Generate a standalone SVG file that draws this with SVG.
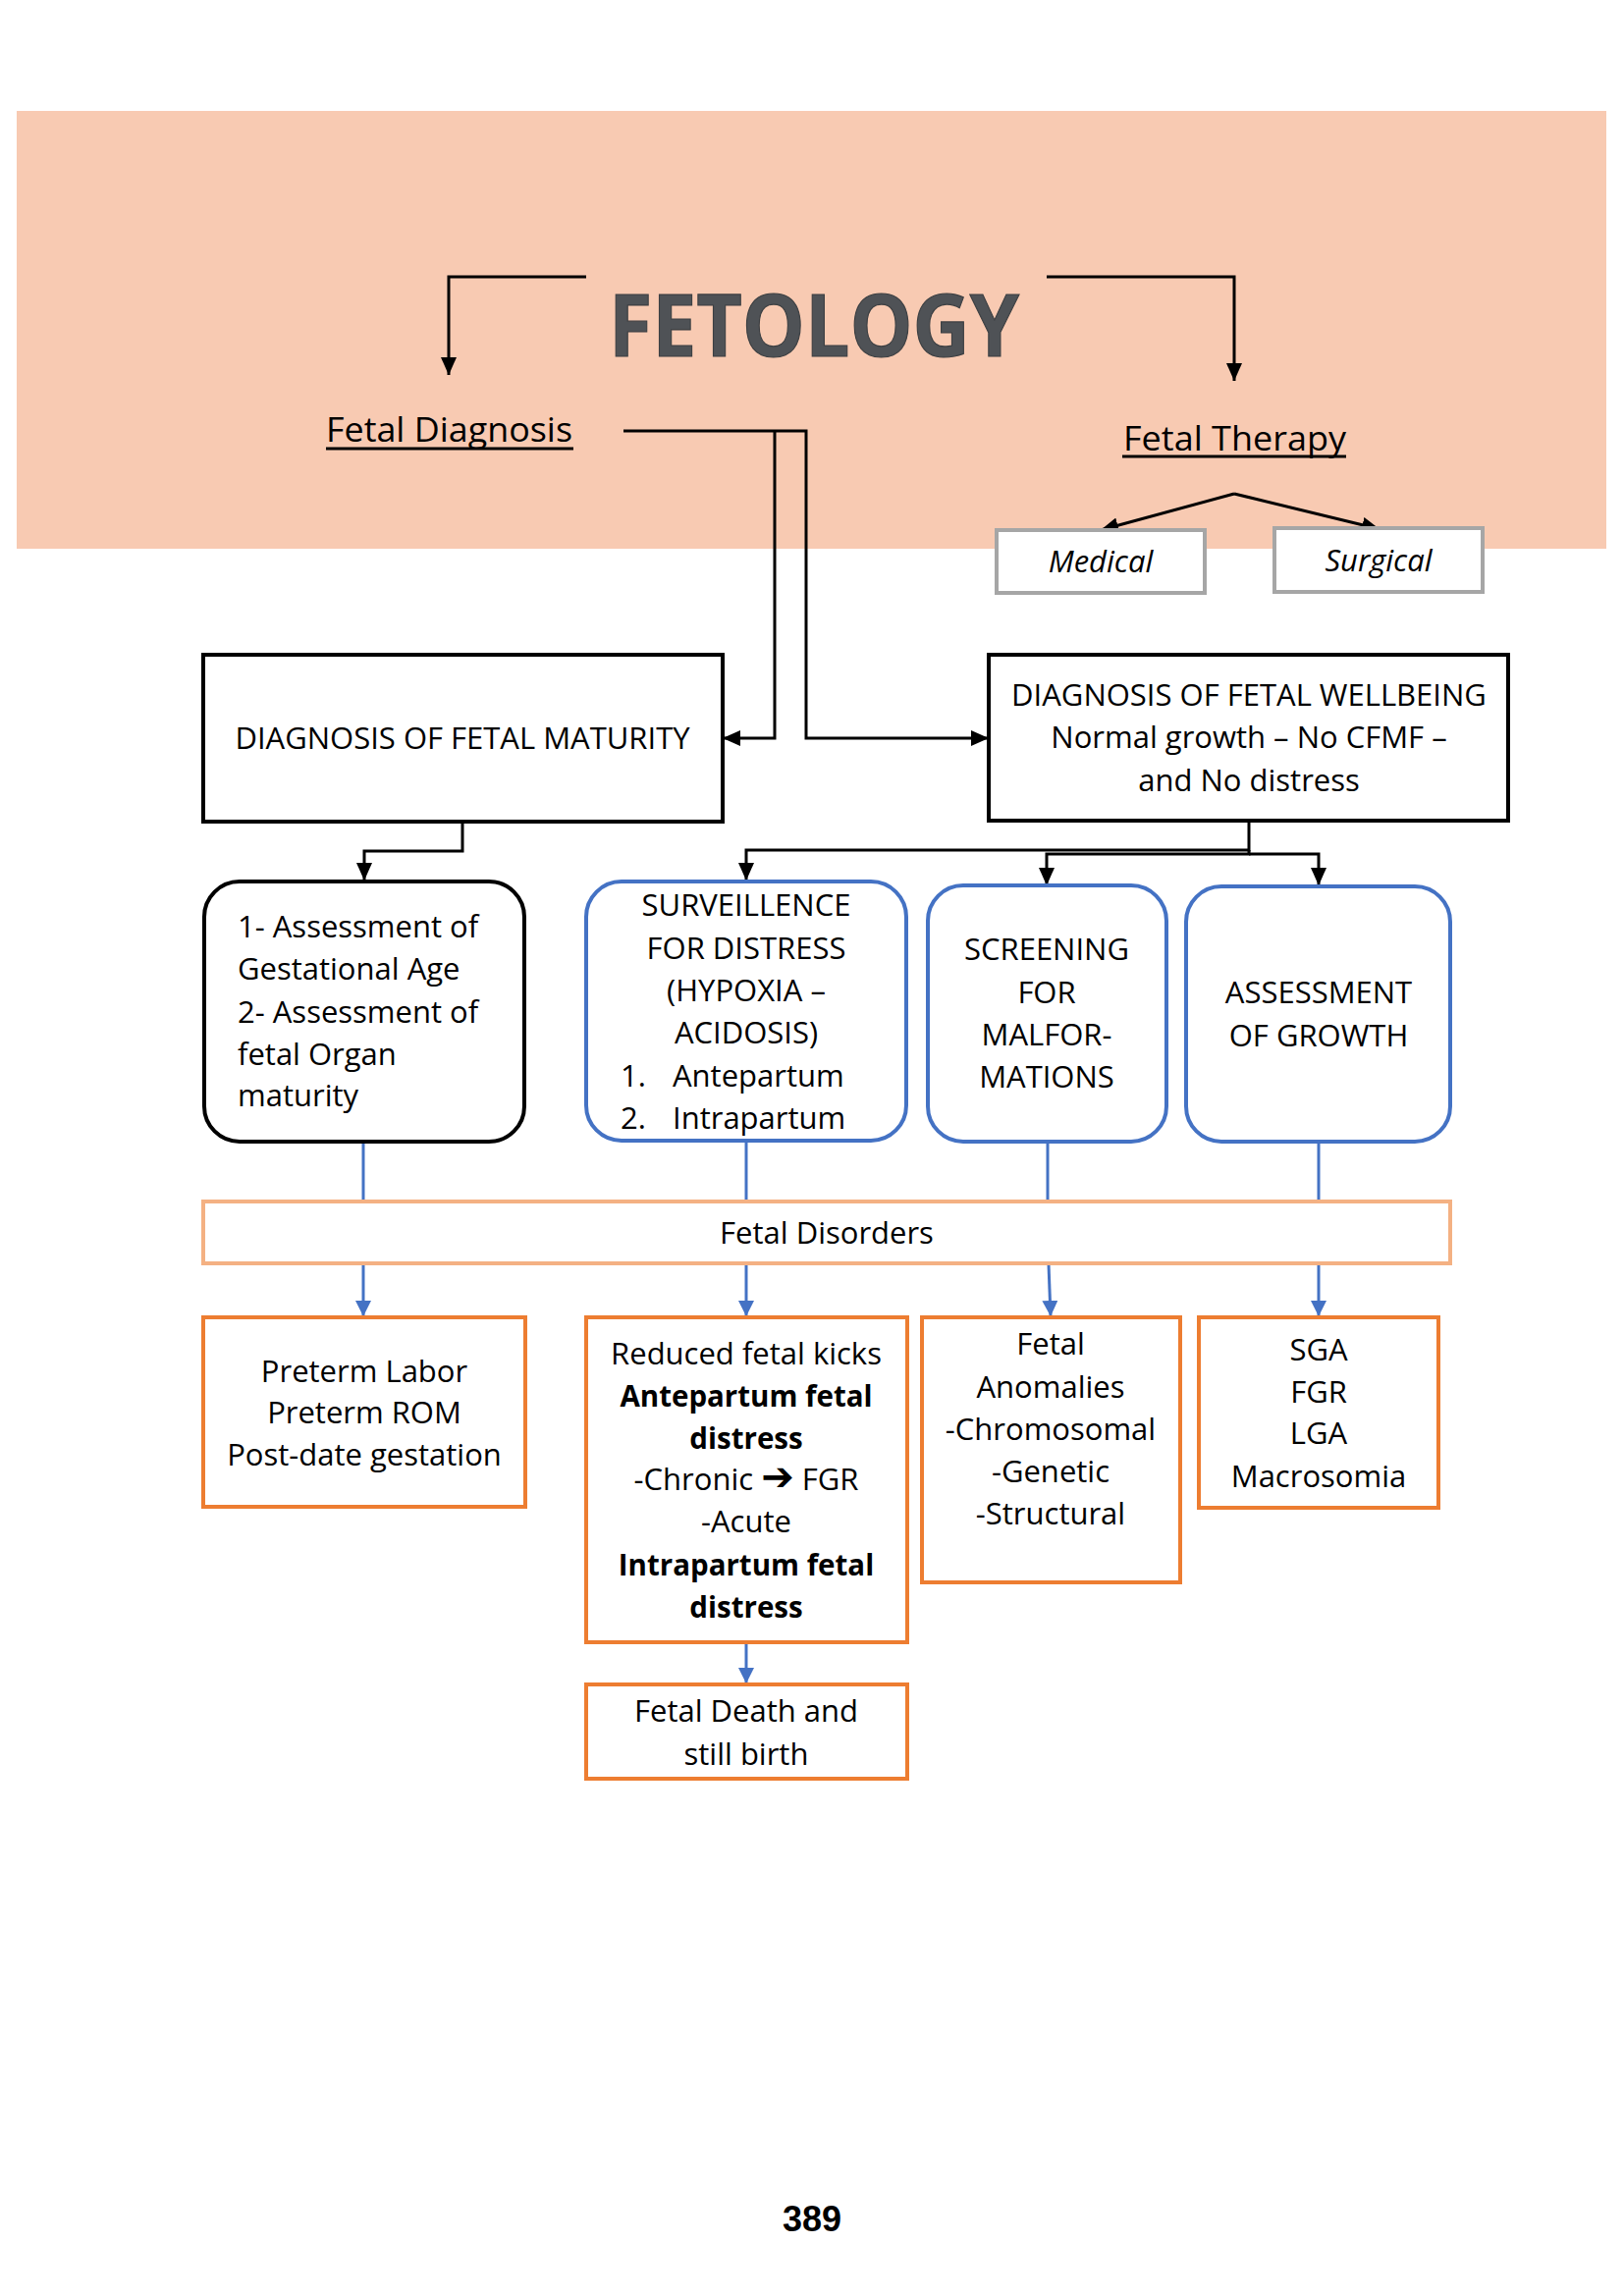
<svg xmlns="http://www.w3.org/2000/svg" width="1654" height="2339" viewBox="0 0 1654 2339">
<style>
  text { font-family: "Open Sans", "Noto Sans", sans-serif; fill: #000; }
  .t { font-size: 31px; }
  .c { text-anchor: middle; }
  .b { font-weight: bold; font-size: 29.5px; }
  .it { font-style: italic; font-size: 31px; }
  .blk { fill: #fff; stroke: #000; stroke-width: 4; }
  .blu { fill: #fff; stroke: #4472c4; stroke-width: 4; }
  .org { fill: #fff; stroke: #ed7d31; stroke-width: 4; }
  .gry { fill: #fff; stroke: #a6a6a6; stroke-width: 4; }
  .lt { fill: #fff; stroke: #f4b183; stroke-width: 4; }
  .k { fill: none; stroke: #000; stroke-width: 3; }
  .bl { fill: none; stroke: #4472c4; stroke-width: 3; }
  .ul { stroke: #000; stroke-width: 3; }
</style>
<defs>
  <marker id="ak" markerUnits="userSpaceOnUse" markerWidth="18" markerHeight="16" viewBox="0 0 18 16" refX="18" refY="8" orient="auto">
    <path d="M0,0 L18,8 L0,16 z" fill="#000"/>
  </marker>
  <marker id="ab" markerUnits="userSpaceOnUse" markerWidth="16" markerHeight="16" viewBox="0 0 16 16" refX="16" refY="8" orient="auto">
    <path d="M0,0 L16,8 L0,16 z" fill="#4472c4"/>
  </marker>
</defs>
<rect x="0" y="0" width="1654" height="2339" fill="#fff"/>
<rect x="17" y="113" width="1619" height="446" fill="#f8cab2"/>

<g id="title">
  <text x="620" y="363" font-size="88" font-weight="bold" textLength="418" lengthAdjust="spacingAndGlyphs" style="fill:#4f5256;stroke:#3c3f42;stroke-width:1.2">FETOLOGY</text>
</g>
<g id="fetal-diagnosis">
  <text x="332" y="450" font-size="35" textLength="251" lengthAdjust="spacingAndGlyphs">Fetal Diagnosis</text>
  <line class="ul" x1="332" y1="457" x2="584" y2="457"/>
</g>
<g id="fetal-therapy">
  <text x="1144" y="459" font-size="35" textLength="227" lengthAdjust="spacingAndGlyphs">Fetal Therapy</text>
  <line class="ul" x1="1143" y1="465" x2="1371" y2="465"/>
</g>

<g id="connectors">
  <path class="k" d="M597,282 H457 V382" marker-end="url(#ak)"/>
  <path class="k" d="M1066,282 H1257 V388" marker-end="url(#ak)"/>
  <path class="k" d="M1257,503 L1121,540" marker-end="url(#ak)"/>
  <path class="k" d="M1257,503 L1405,539" marker-end="url(#ak)"/>
  <path class="k" d="M635,439 H821 V752 H1007" marker-end="url(#ak)"/>
  <path class="k" d="M789,439 V752 H736" marker-end="url(#ak)"/>
  <path class="k" d="M471,837 V867 H371 V897" marker-end="url(#ak)"/>
  <path class="k" d="M1272,836 V866 H760 V897" marker-end="url(#ak)"/>
  <path class="k" d="M1272,866 V870 H1066 V902" marker-end="url(#ak)"/>
  <path class="k" d="M1272,870 H1343 V902" marker-end="url(#ak)"/>
  <path class="bl" d="M370,1164 V1223"/>
  <path class="bl" d="M760,1163 V1223"/>
  <path class="bl" d="M1067,1164 V1223"/>
  <path class="bl" d="M1343,1164 V1223"/>
  <path class="bl" d="M370,1288 V1341" marker-end="url(#ab)"/>
  <path class="bl" d="M760,1288 V1341" marker-end="url(#ab)"/>
  <path class="bl" d="M1068,1288 L1070,1341" marker-end="url(#ab)"/>
  <path class="bl" d="M1343,1288 V1341" marker-end="url(#ab)"/>
  <path class="bl" d="M760,1675 V1715" marker-end="url(#ab)"/>
</g>

<g id="medical">
  <rect class="gry" x="1015" y="540" width="212" height="64"/>
  <text class="it c" x="1121" y="583">Medical</text>
</g>
<g id="surgical">
  <rect class="gry" x="1298" y="538" width="212" height="65"/>
  <text class="it c" x="1404" y="582">Surgical</text>
</g>

<g id="maturity">
  <rect class="blk" x="207" y="667" width="529" height="170"/>
  <text class="t c" x="471" y="763">DIAGNOSIS OF FETAL MATURITY</text>
</g>
<g id="wellbeing">
  <rect class="blk" x="1007" y="667" width="529" height="169"/>
  <text class="t c" x="1272" y="719">DIAGNOSIS OF FETAL WELLBEING</text>
  <text class="t c" x="1272" y="762">Normal growth – No CFMF –</text>
  <text class="t c" x="1272" y="806">and No distress</text>
</g>

<g id="assessment-age">
  <rect class="blk" x="208" y="898" width="326" height="265" rx="36"/>
  <text class="t" x="242" y="955">1- Assessment of</text>
  <text class="t" x="242" y="998">Gestational Age</text>
  <text class="t" x="242" y="1042">2- Assessment of</text>
  <text class="t" x="242" y="1085">fetal Organ</text>
  <text class="t" x="242" y="1127">maturity</text>
</g>
<g id="surveillance">
  <rect class="blu" x="597" y="898" width="326" height="264" rx="36"/>
  <text class="t c" x="760" y="933">SURVEILLENCE</text>
  <text class="t c" x="760" y="977">FOR DISTRESS</text>
  <text class="t c" x="760" y="1020">(HYPOXIA –</text>
  <text class="t c" x="760" y="1063">ACIDOSIS)</text>
  <text class="t" x="632" y="1107">1.</text>
  <text class="t" x="685" y="1107">Antepartum</text>
  <text class="t" x="632" y="1150">2.</text>
  <text class="t" x="685" y="1150">Intrapartum</text>
</g>
<g id="screening">
  <rect class="blu" x="945" y="902" width="243" height="261" rx="36"/>
  <text class="t c" x="1066" y="978">SCREENING</text>
  <text class="t c" x="1066" y="1022">FOR</text>
  <text class="t c" x="1066" y="1065">MALFOR-</text>
  <text class="t c" x="1066" y="1108">MATIONS</text>
</g>
<g id="growth">
  <rect class="blu" x="1208" y="903" width="269" height="260" rx="36"/>
  <text class="t c" x="1343" y="1022">ASSESSMENT</text>
  <text class="t c" x="1343" y="1066">OF GROWTH</text>
</g>

<g id="fetal-disorders">
  <rect class="lt" x="207" y="1224" width="1270" height="63"/>
  <text class="t c" x="842" y="1267">Fetal Disorders</text>
</g>

<g id="preterm">
  <rect class="org" x="207" y="1342" width="328" height="193"/>
  <text class="t c" x="371" y="1408">Preterm Labor</text>
  <text class="t c" x="371" y="1450">Preterm ROM</text>
  <text class="t c" x="371" y="1493">Post-date gestation</text>
</g>
<g id="distress">
  <rect class="org" x="597" y="1342" width="327" height="331"/>
  <text class="t c" x="760" y="1390">Reduced fetal kicks</text>
  <text class="c b" x="760" y="1433">Antepartum fetal</text>
  <text class="c b" x="760" y="1476">distress</text>
  <text class="t c" x="760" y="1518">-Chronic <tspan style="font-family:'DejaVu Sans',sans-serif;font-weight:bold;font-size:40px">➔</tspan> FGR</text>
  <text class="t c" x="760" y="1561">-Acute</text>
  <text class="c b" x="760" y="1605">Intrapartum fetal</text>
  <text class="c b" x="760" y="1648">distress</text>
</g>
<g id="anomalies">
  <rect class="org" x="939" y="1342" width="263" height="270"/>
  <text class="t c" x="1070" y="1380">Fetal</text>
  <text class="t c" x="1070" y="1424">Anomalies</text>
  <text class="t c" x="1070" y="1467">-Chromosomal</text>
  <text class="t c" x="1070" y="1510">-Genetic</text>
  <text class="t c" x="1070" y="1553">-Structural</text>
</g>
<g id="growth-disorders">
  <rect class="org" x="1221" y="1342" width="244" height="194"/>
  <text class="t c" x="1343" y="1386">SGA</text>
  <text class="t c" x="1343" y="1429">FGR</text>
  <text class="t c" x="1343" y="1471">LGA</text>
  <text class="t c" x="1343" y="1515">Macrosomia</text>
</g>
<g id="fetal-death">
  <rect class="org" x="597" y="1716" width="327" height="96"/>
  <text class="t c" x="760" y="1754">Fetal Death and</text>
  <text class="t c" x="760" y="1798">still birth</text>
</g>

<g id="page-number">
  <text x="827" y="2273" text-anchor="middle" style="font-family:'Liberation Sans',Arial,sans-serif;font-size:36px;font-weight:bold">389</text>
</g>
</svg>
